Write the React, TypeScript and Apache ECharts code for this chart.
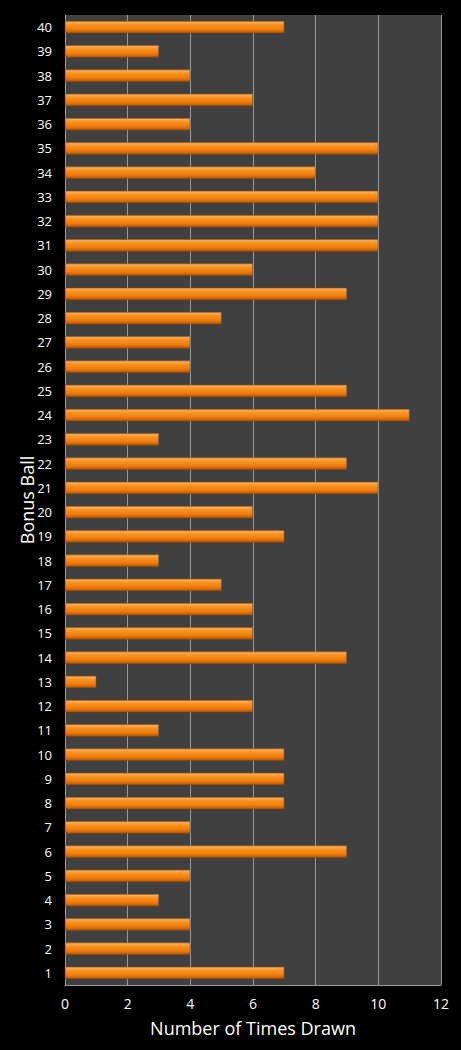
import React, { useEffect, useRef } from 'react';
import * as echarts from 'echarts';

// Bonus ball numbers 1..40 and how often each was drawn
const balls = Array.from({ length: 40 }, (_, i) => String(i + 1));
const timesDrawn = [
  7, 4, 4, 3, 4, 9, 4, 7, 7, 7,
  3, 6, 1, 9, 6, 6, 5, 3, 7, 6,
  10, 9, 3, 11, 9, 4, 4, 5, 9, 6,
  10, 10, 10, 8, 10, 4, 6, 4, 3, 7,
];
const xTicks = { min: 0, max: 12, interval: 2 };

const FONT = '"Open Sans", "DejaVu Sans", sans-serif';

const App = () => {
  const chartRef = useRef<HTMLDivElement>(null);

  useEffect(() => {
    if (!chartRef.current) return;
    const chart = echarts.init(chartRef.current, undefined, { renderer: 'svg' });

    const barColor = new echarts.graphic.LinearGradient(0, 0, 0, 1, [
      { offset: 0, color: '#fbb66e' },
      { offset: 0.3, color: '#f7931e' },
      { offset: 0.7, color: '#ef7b0c' },
      { offset: 1, color: '#b85a08' },
    ]);

    chart.setOption({
      animation: false,
      backgroundColor: '#000000',
      grid: {
        left: 65,
        right: 20,
        top: 15,
        bottom: 65,
        show: true,
        backgroundColor: '#404040',
        borderWidth: 0,
      },
      xAxis: {
        type: 'value',
        min: xTicks.min,
        max: xTicks.max,
        interval: xTicks.interval,
        name: 'Number of Times Drawn',
        nameLocation: 'middle',
        nameGap: 34,
        nameMoveOverlap: false,
        nameTextStyle: { color: '#ffffff', fontSize: 18, fontFamily: FONT },
        axisLine: { show: true, lineStyle: { color: '#9a9a9a', width: 1 } },
        axisTick: { show: false },
        axisLabel: { color: '#ffffff', fontSize: 14, fontFamily: FONT, margin: 11 },
        splitLine: { show: true, lineStyle: { color: '#9a9a9a', width: 1 } },
      },
      yAxis: {
        type: 'category',
        data: balls,
        name: 'Bonus Ball',
        nameLocation: 'middle',
        nameGap: 29,
        nameMoveOverlap: false,
        nameTextStyle: { color: '#ffffff', fontSize: 18, fontFamily: FONT },
        axisLine: { show: true, lineStyle: { color: '#9a9a9a', width: 1 } },
        axisTick: { show: false },
        axisLabel: { color: '#ffffff', fontSize: 13, fontFamily: FONT, margin: 13 },
        splitLine: { show: false },
      },
      series: [
        {
          type: 'bar',
          data: timesDrawn,
          barWidth: '50%',
          itemStyle: {
            color: barColor,
            borderColor: '#9c4a05',
            borderWidth: 0.6,
          },
        },
      ],
    });

    return () => {
      chart.dispose();
    };
  }, []);

  return (
    <div
      ref={chartRef}
      style={{ position: 'fixed', left: 0, top: 0, width: '461px', height: '1050px' }}
    ></div>
  );
};

export default App;
